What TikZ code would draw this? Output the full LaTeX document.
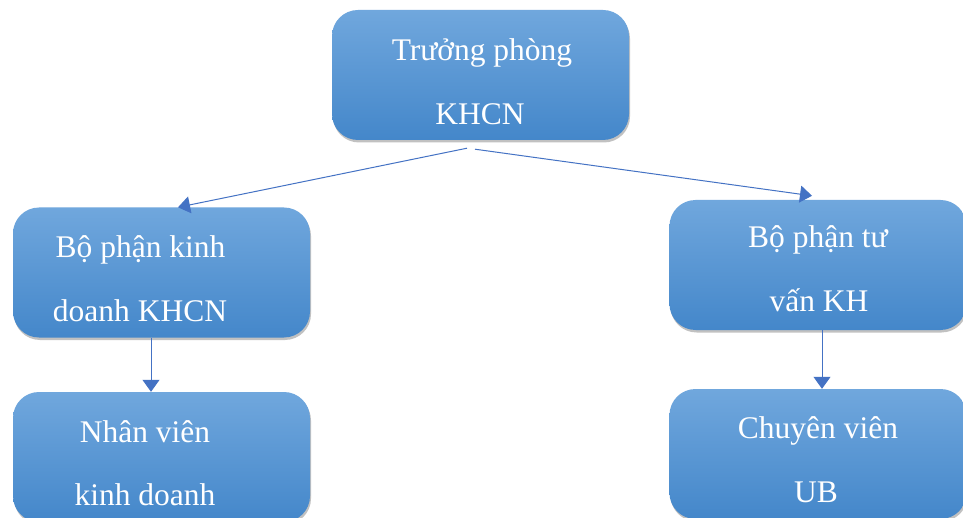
\documentclass[tikz,border=0pt]{standalone}
\usepackage{fontspec}
\setmainfont{Liberation Serif}
\usetikzlibrary{arrows.meta,shadows}
\definecolor{boxtop}{RGB}{112,167,221}
\definecolor{boxbot}{RGB}{68,135,202}
\definecolor{arrowc}{RGB}{68,114,196}
\tikzset{
  orgbox/.style={rounded corners=26pt, minimum width=297pt, minimum height=130pt,
    inner sep=0pt, top color=boxtop, bottom color=boxbot, draw=none,
    drop shadow={shadow xshift=1pt, shadow yshift=-2.5pt, opacity=0.4, fill=black!60}},
  lbl/.style={anchor=base, text=white, font=\fontsize{31.5}{36}\selectfont, inner sep=0pt},
  arr/.style={draw=arrowc, line width=1pt, -{Triangle[length=12pt,width=17pt]}}
}
\begin{document}
\begin{tikzpicture}[x=1pt,y=-1pt]
\clip (0,0) rectangle (963,518);
\fill[white] (0,0) rectangle (963,518);
\node[orgbox] (top) at (480.5,75) {};
\node[orgbox] (left) at (161.5,272.5) {};
\node[orgbox] (bl) at (161.5,457) {};
\node[orgbox] (right) at (818,265) {};
\node[orgbox] (br) at (818,454) {};
\node[lbl] (t1) at (482,61) {Trưởng phòng};
\node[lbl] (t2) at (480,125) {KHCN};
\node[lbl] (l1) at (140.5,258) {Bộ phận kinh};
\node[lbl] (l2) at (140,322) {doanh KHCN};
\node[lbl] (b1) at (145,442) {Nhân viên};
\node[lbl] (b2) at (145,505) {kinh doanh};
\node[lbl] (r1) at (818,248) {Bộ phận tư};
\node[lbl] (r2) at (819,312) {vấn KH};
\node[lbl] (c1) at (818,438) {Chuyên viên};
\node[lbl] (c2) at (816,502) {UB};
\draw[arr] ([xshift=-13.5pt,yshift=-8pt]top.south) -- ([xshift=16.5pt]left.north);
\draw[arr] ([xshift=-5.5pt,yshift=-9pt]top.south) -- ([xshift=-6pt,yshift=4pt]right.north);
\draw[arr] ([xshift=-10.5pt]left.south) -- ([xshift=-10.5pt]bl.north);
\draw[arr] ([xshift=4pt]right.south) -- ([xshift=4pt]br.north);
\end{tikzpicture}
\end{document}
